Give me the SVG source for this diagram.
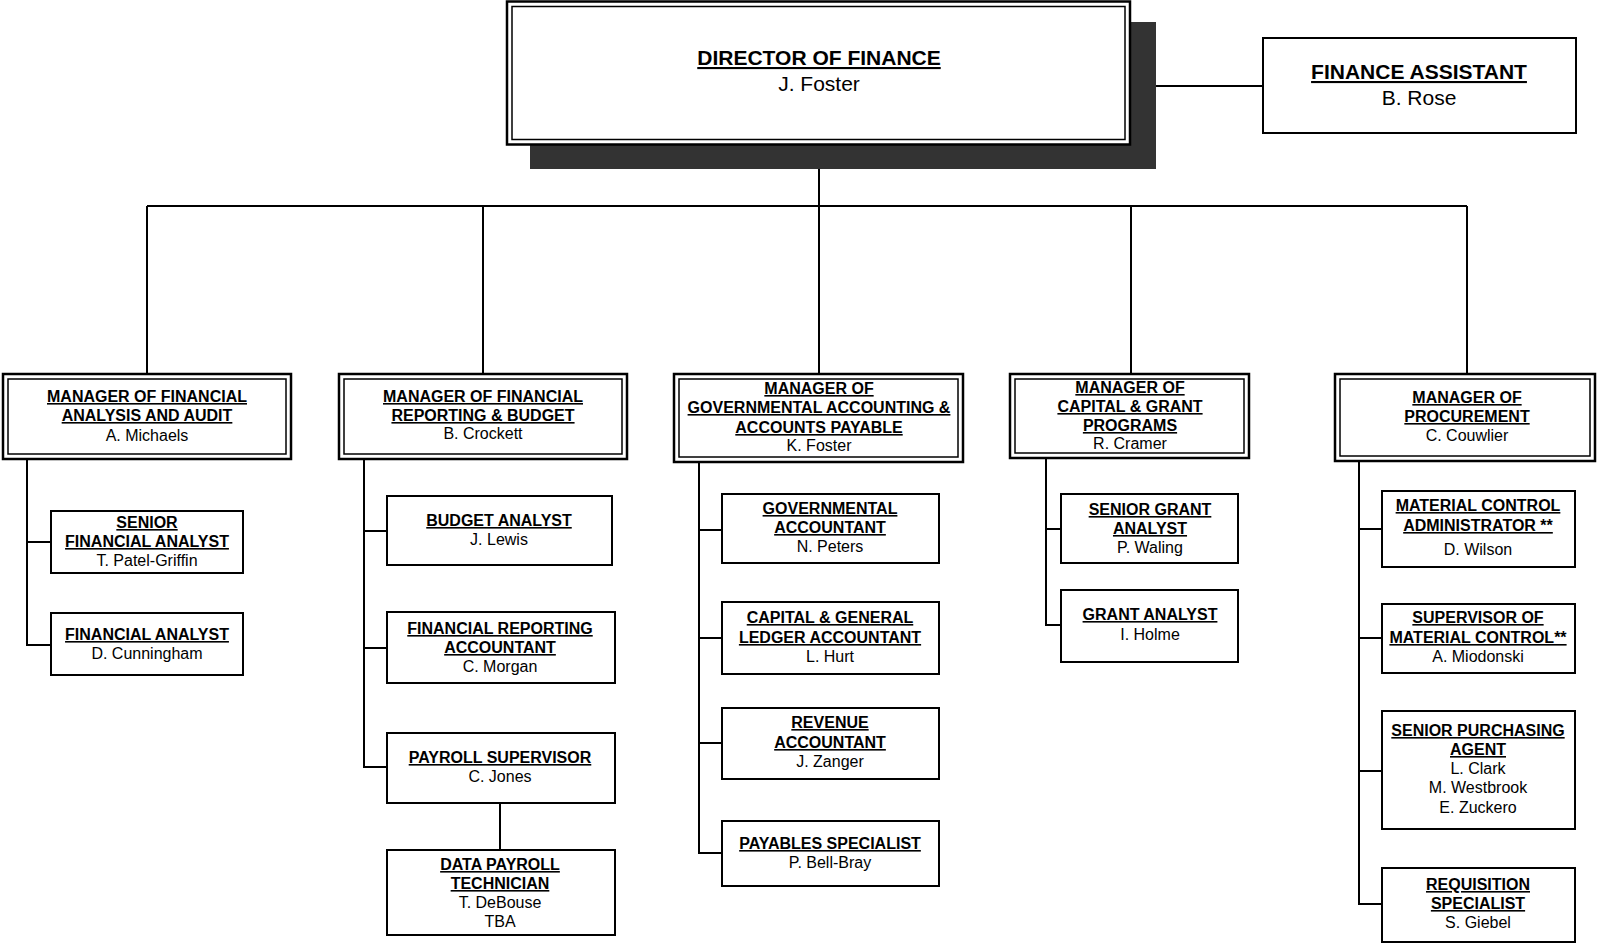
<svg xmlns="http://www.w3.org/2000/svg" width="1597" height="944" viewBox="0 0 1597 944">
  <style>
    text { font-family: "Liberation Sans", Arial, sans-serif; fill: #000; text-anchor: middle; }
    .t { font-weight: bold; font-size: 16px; text-decoration: underline; }
    .n { font-size: 16px; }
    .tl { font-weight: bold; font-size: 21px; text-decoration: underline; }
    .nl { font-size: 21px; }
    .box { fill: #fff; stroke: #000; stroke-width: 2; }
    .outer { fill: #fff; stroke: #000; stroke-width: 2.5; }
    .inner { fill: none; stroke: #000; stroke-width: 1.5; }
    .shadow { fill: #333; }
    .wire { fill: none; stroke: #000; stroke-width: 2; }
  </style>

  <!-- connectors -->
  <g id="connectors">
    <path class="wire" d="M1156 86 H1263"/>
    <path class="wire" d="M819 145 V206"/>
    <path class="wire" d="M147 206 H1467"/>
    <path class="wire" d="M147 206 V374 M483 206 V374 M819 206 V374 M1131 206 V374 M1467 206 V374"/>
    <!-- analysis and audit -->
    <path class="wire" d="M27 459 V645 H51 M27 542 H51"/>
    <!-- reporting and budget -->
    <path class="wire" d="M364 459 V767 H387 M364 531 H387 M364 648 H387"/>
    <path class="wire" d="M500 803 V850"/>
    <!-- governmental accounting -->
    <path class="wire" d="M699 462 V853 H722 M699 530 H722 M699 638 H722 M699 743 H722"/>
    <!-- capital and grant -->
    <path class="wire" d="M1046 458 V625 H1061 M1046 529 H1061"/>
    <!-- procurement -->
    <path class="wire" d="M1359 461 V904 H1382 M1359 529 H1382 M1359 638 H1382 M1359 771 H1382"/>
  </g>

  <!-- top level -->
  <g id="director">
    <rect class="shadow" x="530" y="22" width="626" height="147"/>
    <rect class="outer" x="507" y="1.5" width="623" height="143"/>
    <rect class="inner" x="512" y="6.5" width="613" height="133" stroke-width="2"/>
    <text class="tl" x="819" y="65">DIRECTOR OF FINANCE</text>
    <text class="nl" x="819" y="91">J. Foster</text>
  </g>

  <g id="finance-assistant">
    <rect class="box" x="1263" y="38" width="313" height="95"/>
    <text class="tl" x="1419" y="79">FINANCE ASSISTANT</text>
    <text class="nl" x="1419" y="105">B. Rose</text>
  </g>

  <!-- managers -->
  <g id="mgr-analysis">
    <rect class="outer" x="3" y="374" width="288" height="85"/>
    <rect class="inner" x="8" y="379" width="278" height="75"/>
    <text class="t" x="147" y="402">MANAGER OF FINANCIAL</text>
    <text class="t" x="147" y="421">ANALYSIS AND AUDIT</text>
    <text class="n" x="147" y="441">A. Michaels</text>
  </g>

  <g id="mgr-reporting">
    <rect class="outer" x="339" y="374" width="288" height="85"/>
    <rect class="inner" x="344" y="379" width="278" height="75"/>
    <text class="t" x="483" y="402">MANAGER OF FINANCIAL</text>
    <text class="t" x="483" y="421">REPORTING &amp; BUDGET</text>
    <text class="n" x="483" y="439">B. Crockett</text>
  </g>

  <g id="mgr-governmental">
    <rect class="outer" x="674" y="374" width="289" height="88"/>
    <rect class="inner" x="679" y="379" width="279" height="78"/>
    <text class="t" x="819" y="394">MANAGER OF</text>
    <text class="t" x="819" y="413">GOVERNMENTAL ACCOUNTING &amp;</text>
    <text class="t" x="819" y="433">ACCOUNTS PAYABLE</text>
    <text class="n" x="819" y="451">K. Foster</text>
  </g>

  <g id="mgr-capital">
    <rect class="outer" x="1010" y="374" width="239" height="84"/>
    <rect class="inner" x="1015" y="379" width="229" height="74"/>
    <text class="t" x="1130" y="393">MANAGER OF</text>
    <text class="t" x="1130" y="412">CAPITAL &amp; GRANT</text>
    <text class="t" x="1130" y="431">PROGRAMS</text>
    <text class="n" x="1130" y="449">R. Cramer</text>
  </g>

  <g id="mgr-procurement">
    <rect class="outer" x="1335" y="374" width="260" height="87"/>
    <rect class="inner" x="1340" y="379" width="250" height="77"/>
    <text class="t" x="1467" y="403">MANAGER OF</text>
    <text class="t" x="1467" y="422">PROCUREMENT</text>
    <text class="n" x="1467" y="441">C. Couwlier</text>
  </g>

  <!-- analysis and audit staff -->
  <g id="senior-financial-analyst">
    <rect class="box" x="51" y="511" width="192" height="62"/>
    <text class="t" x="147" y="528">SENIOR</text>
    <text class="t" x="147" y="547">FINANCIAL ANALYST</text>
    <text class="n" x="147" y="566">T. Patel-Griffin</text>
  </g>
  <g id="financial-analyst">
    <rect class="box" x="51" y="613" width="192" height="62"/>
    <text class="t" x="147" y="640">FINANCIAL ANALYST</text>
    <text class="n" x="147" y="659">D. Cunningham</text>
  </g>

  <!-- reporting and budget staff -->
  <g id="budget-analyst">
    <rect class="box" x="387" y="496" width="225" height="69"/>
    <text class="t" x="499" y="526">BUDGET ANALYST</text>
    <text class="n" x="499" y="545">J. Lewis</text>
  </g>
  <g id="financial-reporting-accountant">
    <rect class="box" x="387" y="612" width="228" height="71"/>
    <text class="t" x="500" y="634">FINANCIAL REPORTING</text>
    <text class="t" x="500" y="653">ACCOUNTANT</text>
    <text class="n" x="500" y="672">C. Morgan</text>
  </g>
  <g id="payroll-supervisor">
    <rect class="box" x="387" y="733" width="228" height="70"/>
    <text class="t" x="500" y="763">PAYROLL SUPERVISOR</text>
    <text class="n" x="500" y="782">C. Jones</text>
  </g>
  <g id="data-payroll-technician">
    <rect class="box" x="387" y="850" width="228" height="85"/>
    <text class="t" x="500" y="870">DATA PAYROLL</text>
    <text class="t" x="500" y="889">TECHNICIAN</text>
    <text class="n" x="500" y="908">T. DeBouse</text>
    <text class="n" x="500" y="927">TBA</text>
  </g>

  <!-- governmental accounting staff -->
  <g id="governmental-accountant">
    <rect class="box" x="722" y="494" width="217" height="69"/>
    <text class="t" x="830" y="514">GOVERNMENTAL</text>
    <text class="t" x="830" y="533">ACCOUNTANT</text>
    <text class="n" x="830" y="552">N. Peters</text>
  </g>
  <g id="capital-ledger-accountant">
    <rect class="box" x="722" y="602" width="217" height="72"/>
    <text class="t" x="830" y="623">CAPITAL &amp; GENERAL</text>
    <text class="t" x="830" y="643">LEDGER ACCOUNTANT</text>
    <text class="n" x="830" y="662">L. Hurt</text>
  </g>
  <g id="revenue-accountant">
    <rect class="box" x="722" y="708" width="217" height="71"/>
    <text class="t" x="830" y="728">REVENUE</text>
    <text class="t" x="830" y="748">ACCOUNTANT</text>
    <text class="n" x="830" y="767">J. Zanger</text>
  </g>
  <g id="payables-specialist">
    <rect class="box" x="722" y="821" width="217" height="65"/>
    <text class="t" x="830" y="849">PAYABLES SPECIALIST</text>
    <text class="n" x="830" y="868">P. Bell-Bray</text>
  </g>

  <!-- capital and grant staff -->
  <g id="senior-grant-analyst">
    <rect class="box" x="1061" y="494" width="177" height="69"/>
    <text class="t" x="1150" y="515">SENIOR GRANT</text>
    <text class="t" x="1150" y="534">ANALYST</text>
    <text class="n" x="1150" y="553">P. Waling</text>
  </g>
  <g id="grant-analyst">
    <rect class="box" x="1061" y="590" width="177" height="72"/>
    <text class="t" x="1150" y="620">GRANT ANALYST</text>
    <text class="n" x="1150" y="640">I. Holme</text>
  </g>

  <!-- procurement staff -->
  <g id="material-control-administrator">
    <rect class="box" x="1382" y="491" width="193" height="76"/>
    <text class="t" x="1478" y="511">MATERIAL CONTROL</text>
    <text class="t" x="1478" y="531">ADMINISTRATOR **</text>
    <text class="n" x="1478" y="555">D. Wilson</text>
  </g>
  <g id="supervisor-material-control">
    <rect class="box" x="1382" y="604" width="193" height="69"/>
    <text class="t" x="1478" y="623">SUPERVISOR OF</text>
    <text class="t" x="1478" y="643">MATERIAL CONTROL**</text>
    <text class="n" x="1478" y="662">A. Miodonski</text>
  </g>
  <g id="senior-purchasing-agent">
    <rect class="box" x="1382" y="711" width="193" height="118"/>
    <text class="t" x="1478" y="736">SENIOR PURCHASING</text>
    <text class="t" x="1478" y="755">AGENT</text>
    <text class="n" x="1478" y="774">L. Clark</text>
    <text class="n" x="1478" y="793">M. Westbrook</text>
    <text class="n" x="1478" y="813">E. Zuckero</text>
  </g>
  <g id="requisition-specialist">
    <rect class="box" x="1382" y="868" width="193" height="74"/>
    <text class="t" x="1478" y="890">REQUISITION</text>
    <text class="t" x="1478" y="909">SPECIALIST</text>
    <text class="n" x="1478" y="928">S. Giebel</text>
  </g>
</svg>
